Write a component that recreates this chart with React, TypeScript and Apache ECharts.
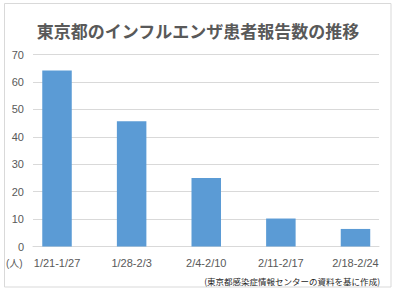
import React, { useEffect, useRef } from "react";
import * as echarts from "echarts";

const titleText = "東京都のインフルエンザ患者報告数の推移";
const categories = ["1/21-1/27", "1/28-2/3", "2/4-2/10", "2/11-2/17", "2/18-2/24"];
const patients = [64.2, 45.7, 25.0, 10.2, 6.4];
const unitLabel = "(人)";
const sourceNote = "(東京都感染症情報センターの資料を基に作成)";

const FONT = "'Liberation Sans', 'Noto Sans CJK JP', sans-serif";
const GRAY = "#595959";
const LINE = "#d9d9d9";

export default function App() {
  const ref = useRef<HTMLDivElement>(null);
  useEffect(() => {
    document.body.style.margin = "0";
    const chart = echarts.init(ref.current!, null, { renderer: "svg" });
    const top = 54.5;
    const bottom = 294 - 246.5;
    chart.setOption({
      animation: false,
      backgroundColor: "#ffffff",
      title: {
        text: titleText,
        left: "center",
        top: 17,
        textStyle: {
          fontFamily: "'Noto Sans CJK JP', sans-serif",
          fontSize: 17,
          fontWeight: "bold",
          color: GRAY,
        },
      },
      grid: [
        { left: 33, right: 17, top, bottom },
        { left: 19.7, right: 3.2, top, bottom },
      ],
      xAxis: [
        {
          gridIndex: 0,
          type: "category",
          data: categories,
          axisLine: { show: true, lineStyle: { color: LINE, width: 1 } },
          axisTick: { show: false },
          axisLabel: { show: false },
          splitLine: { show: false },
        },
        {
          gridIndex: 1,
          type: "category",
          data: categories,
          axisLine: { show: false },
          axisTick: { show: false },
          axisLabel: { color: GRAY, fontSize: 11, fontFamily: FONT, margin: 11 },
          splitLine: { show: false },
        },
      ],
      yAxis: [
        {
          gridIndex: 0,
          type: "value",
          min: 0,
          max: 70,
          interval: 10,
          axisLine: { show: false },
          axisTick: { show: false },
          axisLabel: { color: GRAY, fontSize: 11, fontFamily: FONT, margin: 9 },
          splitLine: { show: true, lineStyle: { color: LINE, width: 1 } },
        },
        {
          gridIndex: 1,
          type: "value",
          min: 0,
          max: 70,
          interval: 10,
          show: false,
          splitLine: { show: false },
        },
      ],
      series: [
        {
          type: "bar",
          xAxisIndex: 1,
          yAxisIndex: 1,
          data: patients,
          barWidth: 29.5,
          itemStyle: { color: "#5b9bd5" },
          z: 3,
        },
      ],
      graphic: [
        {
          type: "rect",
          shape: { x: 4.5, y: 3.5, width: 386.5, height: 283.5 },
          style: { fill: "none", stroke: LINE, lineWidth: 1 },
          silent: true,
        },
        {
          type: "text",
          x: 6,
          y: 263,
          style: {
            text: unitLabel,
            fill: GRAY,
            fontSize: 10,
            fontFamily: FONT,
            verticalAlign: "middle",
            align: "left",
          },
        },
        {
          type: "text",
          x: 380,
          y: 281,
          style: {
            text: sourceNote,
            fill: "#262626",
            fontSize: 8.5,
            fontFamily: "'Noto Sans CJK JP', sans-serif",
            verticalAlign: "middle",
            align: "right",
          },
        },
      ],
    });
    return () => chart.dispose();
  }, []);
  return <div ref={ref} style={{ width: 396, height: 294, position: "fixed", left: 0, top: 0 }} />;
}
